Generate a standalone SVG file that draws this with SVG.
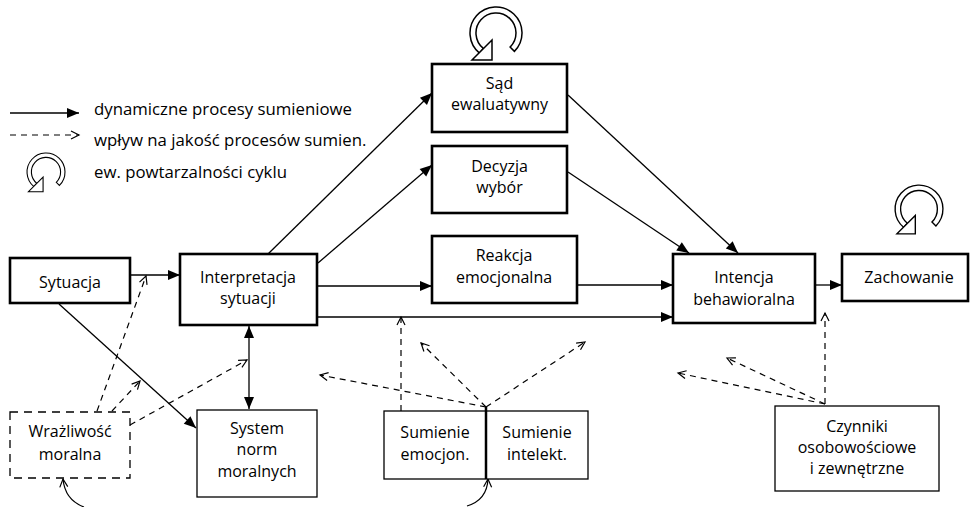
<svg xmlns="http://www.w3.org/2000/svg" width="976" height="507" viewBox="0 0 976 507">
<style>
text{font-family:"Open Sans","Noto Sans","DejaVu Sans",sans-serif;font-size:16px;fill:#000;text-anchor:middle}
.leg{font-size:16.8px;text-anchor:start}
.thick{fill:#fff;stroke:#000;stroke-width:2.6}
.thin{fill:#fff;stroke:#000;stroke-width:1.3}
.dbox{fill:#fff;stroke:#000;stroke-width:1.3;stroke-dasharray:8 6}
.sol{fill:none;stroke:#000;stroke-width:1.3;marker-end:url(#fa)}
.dsh{fill:none;stroke:#000;stroke-width:1.2;stroke-dasharray:6 5;marker-end:url(#oa)}
.crv{fill:none;stroke:#000;stroke-width:1.2;marker-end:url(#oa)}
.ring{fill:#fff;stroke:#000;stroke-width:1.5;stroke-linejoin:miter}
</style>
<defs>
<marker id="fa" markerUnits="userSpaceOnUse" markerWidth="13" markerHeight="11" refX="12" refY="5" orient="auto-start-reverse" overflow="visible">
<path d="M0,0 L12,5 L0,10 Z" fill="#000"/>
</marker>
<marker id="oa" markerUnits="userSpaceOnUse" markerWidth="10" markerHeight="10" refX="8" refY="4" orient="auto" overflow="visible">
<path d="M0,0 L8,4 L0,8" fill="none" stroke="#000" stroke-width="1.2"/>
</marker>
<g id="cyc">
<path class="ring" d="M -16.5 20.1 A 26 26 0 1 1 18.4 18.4 L 14.1 14.1 A 20 20 0 1 0 -12.7 15.4 Z"/>
<path class="ring" d="M -24 27 L -4 27 L -4 7 Z"/>
</g>
</defs>
<rect width="976" height="507" fill="#fff"/>

<g id="legend">
<line x1="10" y1="113" x2="79" y2="113" class="sol"/>
<text class="leg" x="94" y="115">dynamiczne procesy sumieniowe</text>
<line x1="10" y1="135" x2="79" y2="135" class="dsh"/>
<text class="leg" x="94" y="146">wpływ na jakość procesów sumien.</text>
<use href="#cyc" transform="translate(46,172) scale(0.73)"/>
<text class="leg" x="94" y="178">ew. powtarzalności cyklu</text>
</g>

<g id="cycles">
<use href="#cyc" transform="translate(496,33)"/>
<use href="#cyc" transform="translate(919,209) scale(0.92)"/>
</g>

<g id="connectors">
<line x1="130" y1="275" x2="180" y2="275" class="sol"/>
<line x1="59" y1="304" x2="196" y2="428" class="sol"/>
<line x1="249" y1="326" x2="249" y2="409" class="sol" marker-start="url(#fa)"/>
<line x1="268" y1="254" x2="432" y2="93" class="sol"/>
<line x1="318" y1="263" x2="432" y2="165" class="sol"/>
<line x1="317" y1="286" x2="432" y2="286" class="sol"/>
<line x1="317" y1="317" x2="673" y2="317" class="sol"/>
<line x1="577" y1="285" x2="673" y2="285" class="sol"/>
<line x1="568" y1="95" x2="738" y2="253" class="sol"/>
<line x1="568" y1="172" x2="689" y2="253" class="sol"/>
<line x1="815" y1="285" x2="842" y2="285" class="sol"/>
<line x1="97" y1="411" x2="146" y2="276" class="dsh"/>
<line x1="112" y1="411" x2="140" y2="381" class="dsh"/>
<line x1="130" y1="425" x2="247" y2="360" class="dsh"/>
<line x1="401" y1="411" x2="401" y2="317" class="dsh"/>
<line x1="486" y1="407" x2="320" y2="375" class="dsh"/>
<line x1="486" y1="407" x2="421" y2="343" class="dsh"/>
<line x1="486" y1="407" x2="585" y2="342" class="dsh"/>
<line x1="825" y1="404" x2="825" y2="313" class="dsh"/>
<line x1="825" y1="404" x2="727" y2="358" class="dsh"/>
<line x1="825" y1="404" x2="678" y2="373" class="dsh"/>
<path d="M 84 507 Q 65 500 63 479" class="crv"/>
<path d="M 467 506 Q 487 500 488 479" class="crv"/>
</g>

<g id="sytuacja">
<rect x="10" y="258" width="120" height="45" class="thick"/>
<text x="70" y="288">Sytuacja</text>
</g>
<g id="interpretacja">
<rect x="180" y="254" width="137" height="71" class="thick"/>
<text x="248" y="283">Interpretacja</text>
<text x="248" y="304">sytuacji</text>
</g>
<g id="sad">
<rect x="432" y="64" width="135" height="68" class="thick"/>
<text x="499.5" y="89">Sąd</text>
<text x="499.5" y="110">ewaluatywny</text>
</g>
<g id="decyzja">
<rect x="432" y="146" width="135" height="67" class="thick"/>
<text x="499.5" y="172">Decyzja</text>
<text x="499.5" y="193">wybór</text>
</g>
<g id="reakcja">
<rect x="432" y="236" width="145" height="67" class="thick"/>
<text x="504" y="261">Reakcja</text>
<text x="504" y="283">emocjonalna</text>
</g>
<g id="intencja">
<rect x="673" y="254" width="142" height="69" class="thick"/>
<text x="744" y="283">Intencja</text>
<text x="744" y="305">behawioralna</text>
</g>
<g id="zachowanie">
<rect x="842" y="254" width="126" height="47" class="thick"/>
<text x="909" y="283">Zachowanie</text>
</g>
<g id="wrazliwosc">
<rect x="10" y="412" width="120" height="66" class="dbox"/>
<text x="70" y="437">Wrażliwość</text>
<text x="70" y="460">moralna</text>
</g>
<g id="system">
<rect x="197" y="410" width="120" height="87" class="thin"/>
<text x="257" y="434">System</text>
<text x="257" y="455">norm</text>
<text x="257" y="477">moralnych</text>
</g>
<g id="sumienie">
<rect x="384" y="411" width="204" height="68" class="thin"/>
<line x1="486" y1="407" x2="486" y2="479" stroke="#000" stroke-width="2.5"/>
<text x="435" y="438">Sumienie</text>
<text x="435" y="460">emocjon.</text>
<text x="537" y="438">Sumienie</text>
<text x="537" y="460">intelekt.</text>
</g>
<g id="czynniki">
<rect x="775" y="406" width="164" height="85" class="thin"/>
<text x="857" y="432">Czynniki</text>
<text x="857" y="453">osobowościowe</text>
<text x="857" y="474">i zewnętrzne</text>
</g>
</svg>
